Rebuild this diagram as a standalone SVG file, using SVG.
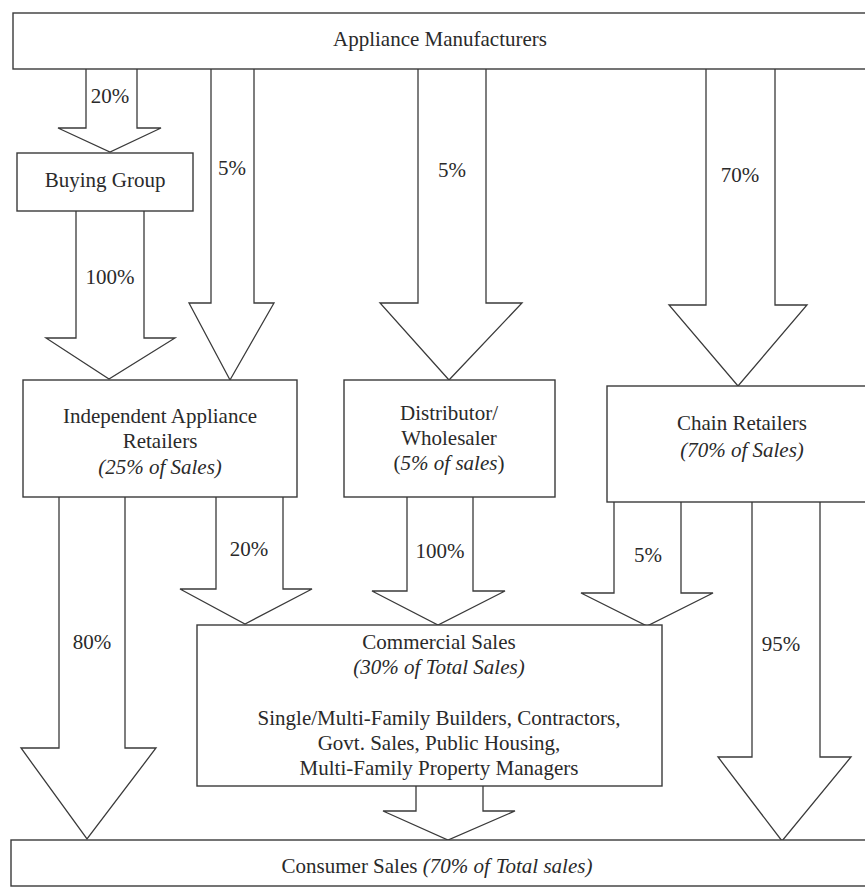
<svg xmlns="http://www.w3.org/2000/svg" width="865" height="890" viewBox="0 0 865 890">
<style>
  .box { fill: #ffffff; stroke: #3a3a3a; stroke-width: 1.4; }
  .arrow { fill: #ffffff; stroke: #3a3a3a; stroke-width: 1.3; stroke-linejoin: miter; }
  text { font-family: "Liberation Serif", "Times New Roman", serif; font-size: 21px; fill: #2a2a2a; text-anchor: middle; }
  .it { font-style: italic; }
</style>
<rect x="0" y="0" width="865" height="890" fill="#ffffff"/>

<g id="connectors">
  <!-- Manufacturers -> Buying Group (20%) -->
  <polyline class="arrow" points="86,69 86,128 58,128 110,152 161,128 137,128 137,69"/>
  <text x="110" y="103">20%</text>
  <!-- Buying Group -> Independent (100%) -->
  <polyline class="arrow" points="76,211 76,338 46,338 109,379 175,338 144,338 144,211"/>
  <text x="110" y="284">100%</text>
  <!-- Manufacturers -> Independent (5%) -->
  <polyline class="arrow" points="211,69 211,303 189,303 230,380 274,303 254,303 254,69"/>
  <text x="232" y="175">5%</text>
  <!-- Manufacturers -> Distributor (5%) -->
  <polyline class="arrow" points="418,69 418,303 380,303 449,380 522,303 486,303 486,69"/>
  <text x="452" y="177">5%</text>
  <!-- Manufacturers -> Chain (70%) -->
  <polyline class="arrow" points="706,69 706,305 669,305 738,386 807,305 775,305 775,69"/>
  <text x="740" y="182">70%</text>
  <!-- Independent -> Consumer (80%) -->
  <polyline class="arrow" points="59,497 59,748 21,748 87,839 156,748 125,748 125,497"/>
  <text x="92" y="649">80%</text>
  <!-- Independent -> Commercial (20%) -->
  <polyline class="arrow" points="216,497 216,589 180,589 245,624 312,589 283,589 283,497"/>
  <text x="249" y="556">20%</text>
  <!-- Distributor -> Commercial (100%) -->
  <polyline class="arrow" points="407,497 407,591 372,591 438,625 505,591 473,591 473,497"/>
  <text x="440" y="558">100%</text>
  <!-- Chain -> Commercial (5%) -->
  <polyline class="arrow" points="614,502 614,593 581,593 647,626 713,593 681,593 681,502"/>
  <text x="648" y="562">5%</text>
  <!-- Chain -> Consumer (95%) -->
  <polyline class="arrow" points="752,502 752,757 718,757 782,841 851,757 820,757 820,502"/>
  <text x="781" y="651">95%</text>
  <!-- Commercial -> Consumer -->
  <polyline class="arrow" points="416,786 416,811 383,811 448,840 515,811 483,811 483,786"/>
</g>

<g id="manufacturers">
  <rect class="box" x="13" y="13" width="870" height="56"/>
  <text x="440" y="46">Appliance Manufacturers</text>
</g>

<g id="buying-group">
  <rect class="box" x="17" y="153" width="176" height="58"/>
  <text x="105" y="187">Buying Group</text>
</g>

<g id="independent-retailers">
  <rect class="box" x="23" y="380" width="274" height="117"/>
  <text x="160" y="423">Independent Appliance</text>
  <text x="160" y="448">Retailers</text>
  <text x="160" y="474" class="it">(25% of Sales)</text>
</g>

<g id="distributor">
  <rect class="box" x="344" y="380" width="211" height="117"/>
  <text x="449" y="420">Distributor/</text>
  <text x="449" y="445">Wholesaler</text>
  <text x="449" y="470">(<tspan class="it">5% of sales</tspan>)</text>
</g>

<g id="chain-retailers">
  <rect class="box" x="607" y="386" width="270" height="116"/>
  <text x="742" y="430">Chain Retailers</text>
  <text x="742" y="457" class="it">(70% of Sales)</text>
</g>

<g id="commercial-sales">
  <rect class="box" x="197" y="625" width="465" height="161"/>
  <text x="439" y="649">Commercial Sales</text>
  <text x="439" y="674" class="it">(30% of Total Sales)</text>
  <text x="439" y="725">Single/Multi-Family Builders, Contractors,</text>
  <text x="439" y="750">Govt. Sales, Public Housing,</text>
  <text x="439" y="775">Multi-Family Property Managers</text>
</g>

<g id="consumer-sales">
  <rect class="box" x="11" y="840" width="870" height="46"/>
  <text x="437" y="873">Consumer Sales <tspan class="it">(70% of</tspan><tspan class="it" dx="6">Total sales)</tspan></text>
</g>
</svg>
